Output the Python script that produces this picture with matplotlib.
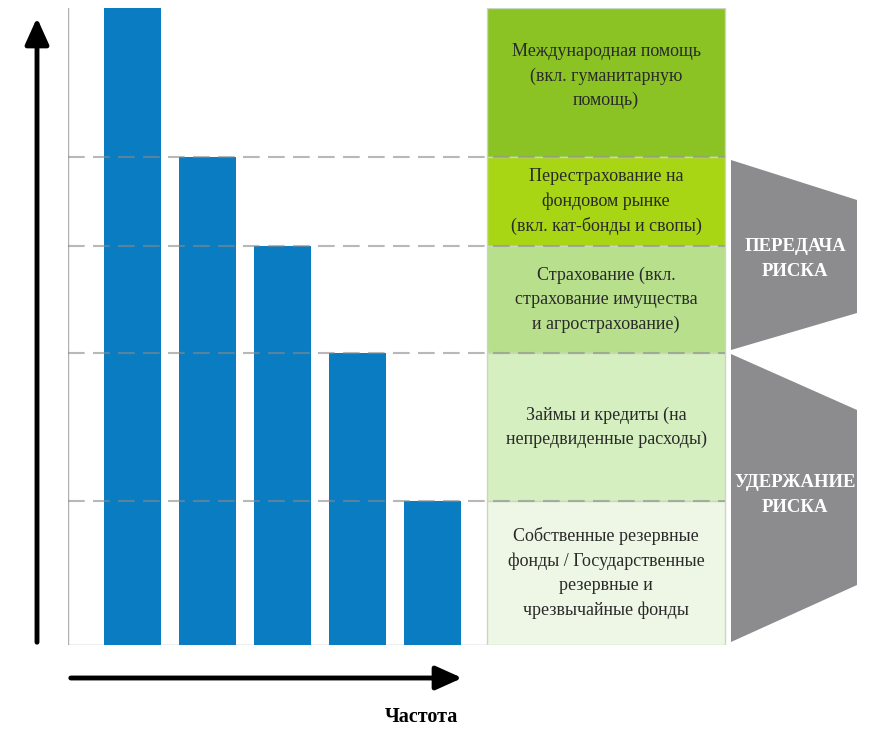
import matplotlib.pyplot as plt
from matplotlib.patches import Polygon, Rectangle, FancyArrowPatch

plt.rcParams['font.family'] = ['Liberation Serif', 'DejaVu Serif']

# bar heights (share of the tallest bar), left to right
levels = [100, 76.6, 62.6, 45.8, 22.6]
bar_color = '#0a7dc2'

# instrument bands, top to bottom, each spanning between two levels
band_labels = [
    'Международная помощь\n(вкл. гуманитарную\nпомощь)',
    'Перестрахование на\nфондовом рынке\n(вкл. кат-бонды и свопы)',
    'Страхование (вкл.\nстрахование имущества\nи агрострахование)',
    'Займы и кредиты (на\nнепредвиденные расходы)',
    'Собственные резервные\nфонды / Государственные\nрезервные и\nчрезвычайные фонды',
]
band_colors = ['#8cc324', '#a8d615', '#b8e08c', '#d6efc0', '#eef7e5']

group_labels = ['ПЕРЕДАЧА\nРИСКА', 'УДЕРЖАНИЕ\nРИСКА']
x_label = 'Частота'

W, H = 871, 731
fig = plt.figure(figsize=(W / 100, H / 100), dpi=100)

# main axes, 1 x-unit = 75 px
x0, x1 = -0.86, -0.86 + 792 / 75
ax = fig.add_axes([68 / W, (H - 645) / H, 792 / W, 637 / H])
ax.set_xlim(x0, x1)
ax.set_ylim(0, 100)
ax.axis('off')

xs = list(range(len(levels)))
ax.bar(xs, levels, width=0.75, color=bar_color, zorder=2)

# frame lines
box_l = x0 + 419 / 75
box_r = x0 + 657 / 75
ax.plot([x0, x0], [0, 100], color='#b0b0b0', lw=1, zorder=1)
ax.plot([x0, box_l], [0, 0], color='#b0b0b0', lw=1, zorder=1)

# coloured bands on the right
bounds = levels + [0]
for i, (lab, col) in enumerate(zip(band_labels, band_colors)):
    top, bot = bounds[i], bounds[i + 1]
    ax.add_patch(Rectangle((box_l, bot), box_r - box_l, top - bot,
                           facecolor=col, edgecolor='#c8d8c0', lw=1, zorder=1))
    ty = (top + bot) / 2 + (1.0 if i == 0 else 0)
    ax.text((box_l + box_r) / 2, ty, lab, ha='center', va='center',
            fontsize=13, color='#2a2a2a', linespacing=1.55, zorder=3)

# dashed guides at each bar top, drawn over the bars
for lv in levels[1:]:
    ax.plot([x0, box_r], [lv, lv], color='#8a8a8a', lw=1.5, alpha=0.6,
            dashes=(8, 4), zorder=2.5)

# grey chevrons on the far right
px = lambda p: x0 + (p - 68) / 75
py = lambda p: (645 - p) / 637 * 100
transfer = [(px(731), py(160)), (px(857), py(200)), (px(857), py(313)), (px(731), py(350))]
retain = [(px(731), py(354)), (px(857), py(410)), (px(857), py(585)), (px(731), py(642))]
for shape, lab, ty in [(transfer, group_labels[0], 259), (retain, group_labels[1], 495)]:
    ax.add_patch(Polygon(shape, closed=True, facecolor='#8c8c8e', edgecolor='none',
                         clip_on=False))
    ax.text(px(795), py(ty), lab, ha='center', va='center', color='white',
            fontsize=13.5, fontweight='bold', linespacing=1.55, clip_on=False)

# axis arrows
style = '-|>,head_length=8,head_width=3.6'
fig.patches.append(FancyArrowPatch((37, H - 645), (37, H - 15), transform=None,
                                   arrowstyle=style, color='black', lw=3.5, mutation_scale=2))
fig.patches.append(FancyArrowPatch((68, H - 678), (465, H - 678), transform=None,
                                   arrowstyle=style, color='black', lw=3.5, mutation_scale=2))

fig.text(421 / W, (H - 717) / H, x_label, ha='center', va='center',
         fontsize=14.5, fontweight='bold')

fig.savefig('out.png', dpi=100)
